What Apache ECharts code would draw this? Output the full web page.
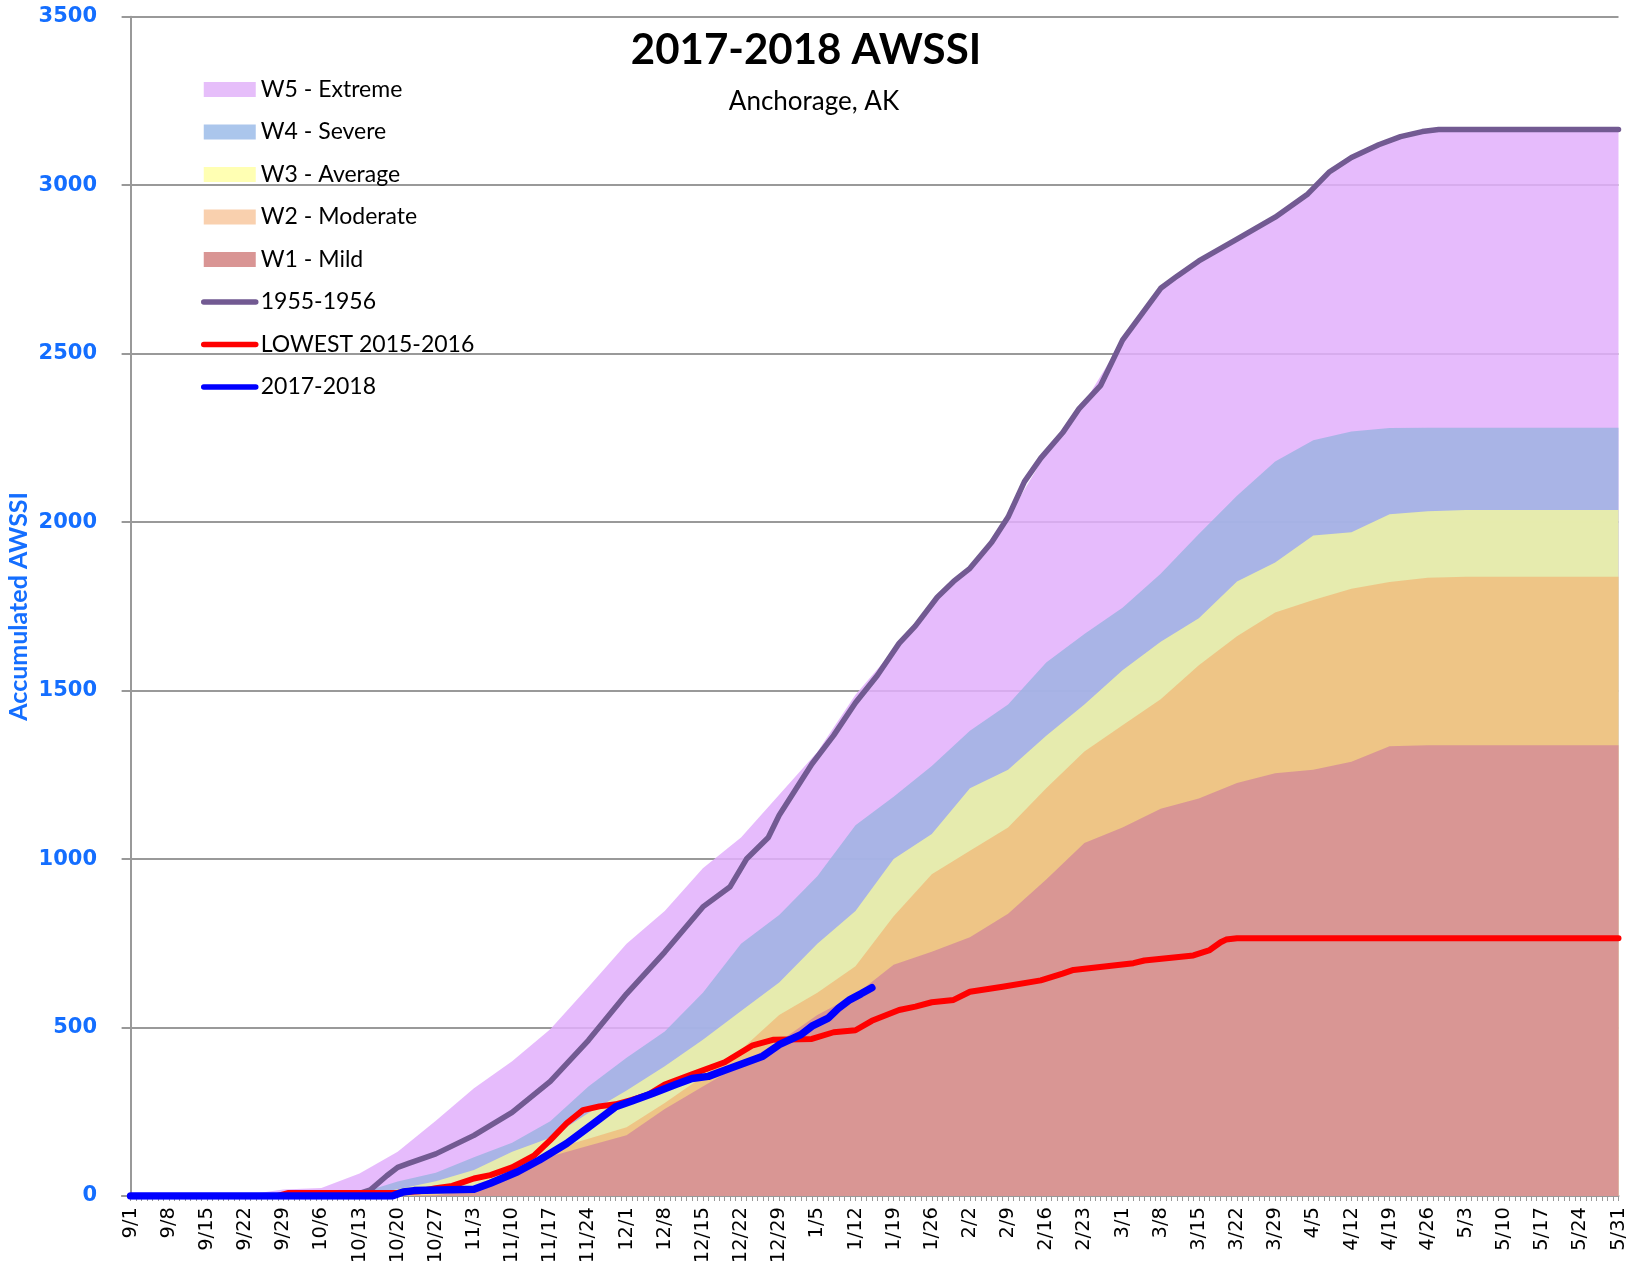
<!DOCTYPE html>
<html><head><meta charset="utf-8">
<script src="https://cdn.jsdelivr.net/npm/echarts@6/dist/echarts.min.js"></script>
<style>html,body{margin:0;padding:0;background:#fff}#c{width:1637px;height:1265px}</style>
</head><body><div id="c"></div>
<script>
// Tick labels: one every 7 days from 9/1 (day 0) to 5/31 (day 273)
const weekLabels = ['9/1','9/8','9/15','9/22','9/29','10/6','10/13','10/20','10/27','11/3','11/10','11/17','11/24','12/1','12/8','12/15','12/22','12/29','1/5','1/12','1/19','1/26','2/2','2/9','2/16','2/23','3/1','3/8','3/15','3/22','3/29','4/5','4/12','4/19','4/26','5/3','5/10','5/17','5/24','5/31'];

// Upper edge of each category band, sampled at each weekly label
const w5Extreme  = [0,0,0,3,19,24,67,131,223,320, 400,495,620,749,846,973,1064,1191,1318,1488, 1620,1755,1863,2015,2205,2355,2540,2694,2775,2840, 2905,2990,3082,3130,3162,3165,3165,3165,3165,3165];
const w4Severe   = [0,0,0,0,0,0,8,43,69,115, 158,222,325,410,488,603,749,834,949,1100, 1185,1276,1381,1459,1583,1668,1746,1847,1965,2078, 2180,2243,2269,2279,2280,2280,2280,2280,2280,2280];
const w3Average  = [0,0,0,0,0,0,0,20,44,77, 131,173,246,313,385,464,549,634,749,846, 1000,1074,1210,1265,1366,1459,1560,1645,1715,1824, 1880,1960,1970,2023,2032,2036,2036,2036,2036,2036];
const w2Moderate = [0,0,0,0,0,0,0,3,7,30, 78,137,170,204,276,355,434,537,603,682, 830,955,1025,1094,1210,1319,1397,1474,1575,1661, 1732,1769,1802,1822,1835,1838,1838,1838,1838,1838];
const w1Mild     = [0,0,0,0,0,0,0,0,2,18, 57,117,149,180,258,325,391,458,537,597, 686,725,768,838,939,1048,1094,1149,1180,1226, 1255,1265,1289,1335,1338,1338,1338,1338,1338,1338];

// Season lines: [day since 9/1, accumulated AWSSI]
const season1955 = [[0,0],[38,0],[42,8],[44,18],[47,60],[49,85],[51,97],[56,125],[63,180],[70,248],[77,340],[84,462],[91,600],[98,724],[105,858],[110,918],[113,1000],[117,1064],[119,1130],[125,1282],[129,1367],[133,1464],[137,1545],[141,1640],[144,1692],[148,1777],[151,1824],[154,1863],[158,1940],[161,2015],[164,2120],[167,2190],[171,2265],[174,2336],[178,2406],[182,2540],[189,2694],[192,2730],[196,2775],[203,2840],[210,2905],[216,2974],[220,3040],[224,3082],[229,3120],[233,3144],[237,3159],[240,3165],[273,3165]];
const lowest2015 = [[0,0],[27,0],[29,9],[49,10],[53,14],[56,23],[59,30],[63,52],[66,62],[70,85],[74,120],[77,166],[80,216],[83,255],[86,266],[89,272],[92,285],[95,301],[98,331],[103,361],[109,397],[114,446],[118,464],[125,466],[129,486],[133,492],[136,520],[141,552],[144,562],[147,575],[151,582],[154,606],[160,621],[167,640],[171,660],[173,671],[184,691],[186,699],[195,714],[198,730],[200,753],[201,761],[203,765],[273,765]];
const season2017 = [[0,0],[48,0],[50,12],[52,16],[63,20],[66,38],[71,72],[75,107],[80,156],[85,216],[89,265],[92,282],[96,306],[100,331],[103,349],[106,355],[109,373],[113,397],[116,415],[119,449],[123,479],[125,504],[128,528],[130,559],[132,583],[134,600],[136,618]];

const labelDays = weekLabels.map((_, i) => i * 7);
const tickDays = [];
for (let d = 0; d <= 273; d++) tickDays.push(d);

const bands = [
  {name: 'W5 - Extreme', vals: w5Extreme, fill: '#E2AFFB', legend: '#E6BEFA'},
  {name: 'W4 - Severe', vals: w4Severe, fill: '#9DB3E2', legend: '#ABC6EC'},
  {name: 'W3 - Average', vals: w3Average, fill: '#F1F4A3', legend: '#FFFFB3'},
  {name: 'W2 - Moderate', vals: w2Moderate, fill: '#EFBE7F', legend: '#F9D0AE'},
  {name: 'W1 - Mild', vals: w1Mild, fill: '#D58D96', legend: '#D99594'}
];
const lines = [
  {name: '1955-1956', pts: season1955, color: '#725A92', width: 5.5},
  {name: 'LOWEST 2015-2016', pts: lowest2015, color: '#FF0000', width: 6},
  {name: '2017-2018', pts: season2017, color: '#0000FF', width: 7.5}
];

const series = [];
bands.forEach(b => series.push({
  type: 'line', name: b.name, symbol: 'none', silent: true, z: 2,
  data: b.vals.map((v, i) => [labelDays[i], v]),
  lineStyle: {width: 0}, itemStyle: {color: b.legend},
  areaStyle: {color: b.fill, opacity: 0.85}
}));
lines.forEach(l => series.push({
  type: 'line', name: l.name, symbol: 'none', silent: true, z: 4,
  data: l.pts,
  itemStyle: {color: l.color},
  lineStyle: {color: l.color, width: l.width, cap: 'round', join: 'round'}
}));

const legendData = bands.map(b => ({name: b.name, icon: 'rect', itemStyle: {color: b.legend, borderWidth: 0}}))
  .concat(lines.map(l => ({name: l.name, itemStyle: {opacity: 0, color: 'rgba(0,0,0,0)', borderWidth: 0},
    lineStyle: {width: 5.5, color: l.color, cap: 'round', opacity: 1}})));

const chart = echarts.init(document.getElementById('c'), null, {renderer: 'canvas'});
chart.setOption({
  animation: false,
  backgroundColor: '#fff',
  title: [
    {text: '2017-2018 AWSSI', left: 801, top: 24, textAlign: 'center',
     textStyle: {fontFamily: 'Lato', fontWeight: 'bold', fontSize: 42, color: '#000'}},
    {text: 'Anchorage, AK', left: 809, top: 84, textAlign: 'center',
     textStyle: {fontFamily: 'Lato', fontWeight: 'normal', fontSize: 26, color: '#000'}}
  ],
  legend: {
    orient: 'vertical', left: 196, top: 73, itemWidth: 52, itemHeight: 15, itemGap: 19.5,
    selectedMode: false, data: legendData,
    textStyle: {fontFamily: 'Lato', fontSize: 23, color: '#000'}
  },
  grid: {left: 122, right: 18.5, top: 16.7, bottom: 69, containLabel: false, outerBoundsMode: 'none'},
  xAxis: {
    type: 'value', min: -1.58, max: 273,
    axisLine: {show: true, onZero: false, lineStyle: {color: '#999', width: 2}},
    axisTick: {show: true, customValues: tickDays, length: 5, lineStyle: {color: '#999', width: 1}},
    axisLabel: {customValues: labelDays, rotate: 90, margin: 11, fontFamily: 'DejaVu Sans', fontSize: 19.5, color: '#000',
      formatter: v => weekLabels[Math.round(v / 7)]},
    splitLine: {show: false}
  },
  yAxis: {
    type: 'value', min: 0, max: 3500, interval: 500,
    name: 'Accumulated AWSSI', nameLocation: 'middle', nameRotate: 90, nameGap: 91, nameMoveOverlap: false,
    nameTextStyle: {fontFamily: 'Lato', fontWeight: 'bold', fontSize: 25, color: '#146EFF'},
    axisLine: {show: true, lineStyle: {color: '#999', width: 2}},
    axisTick: {show: true, length: 9, lineStyle: {color: '#999', width: 2}},
    axisLabel: {margin: 25, fontFamily: 'DejaVu Sans', fontWeight: 'bold', fontSize: 21, color: '#146EFF',
      formatter: v => String(v)},
    splitLine: {show: true, lineStyle: {color: '#999', width: 2}}
  },
  series: series
});
</script></body></html>
